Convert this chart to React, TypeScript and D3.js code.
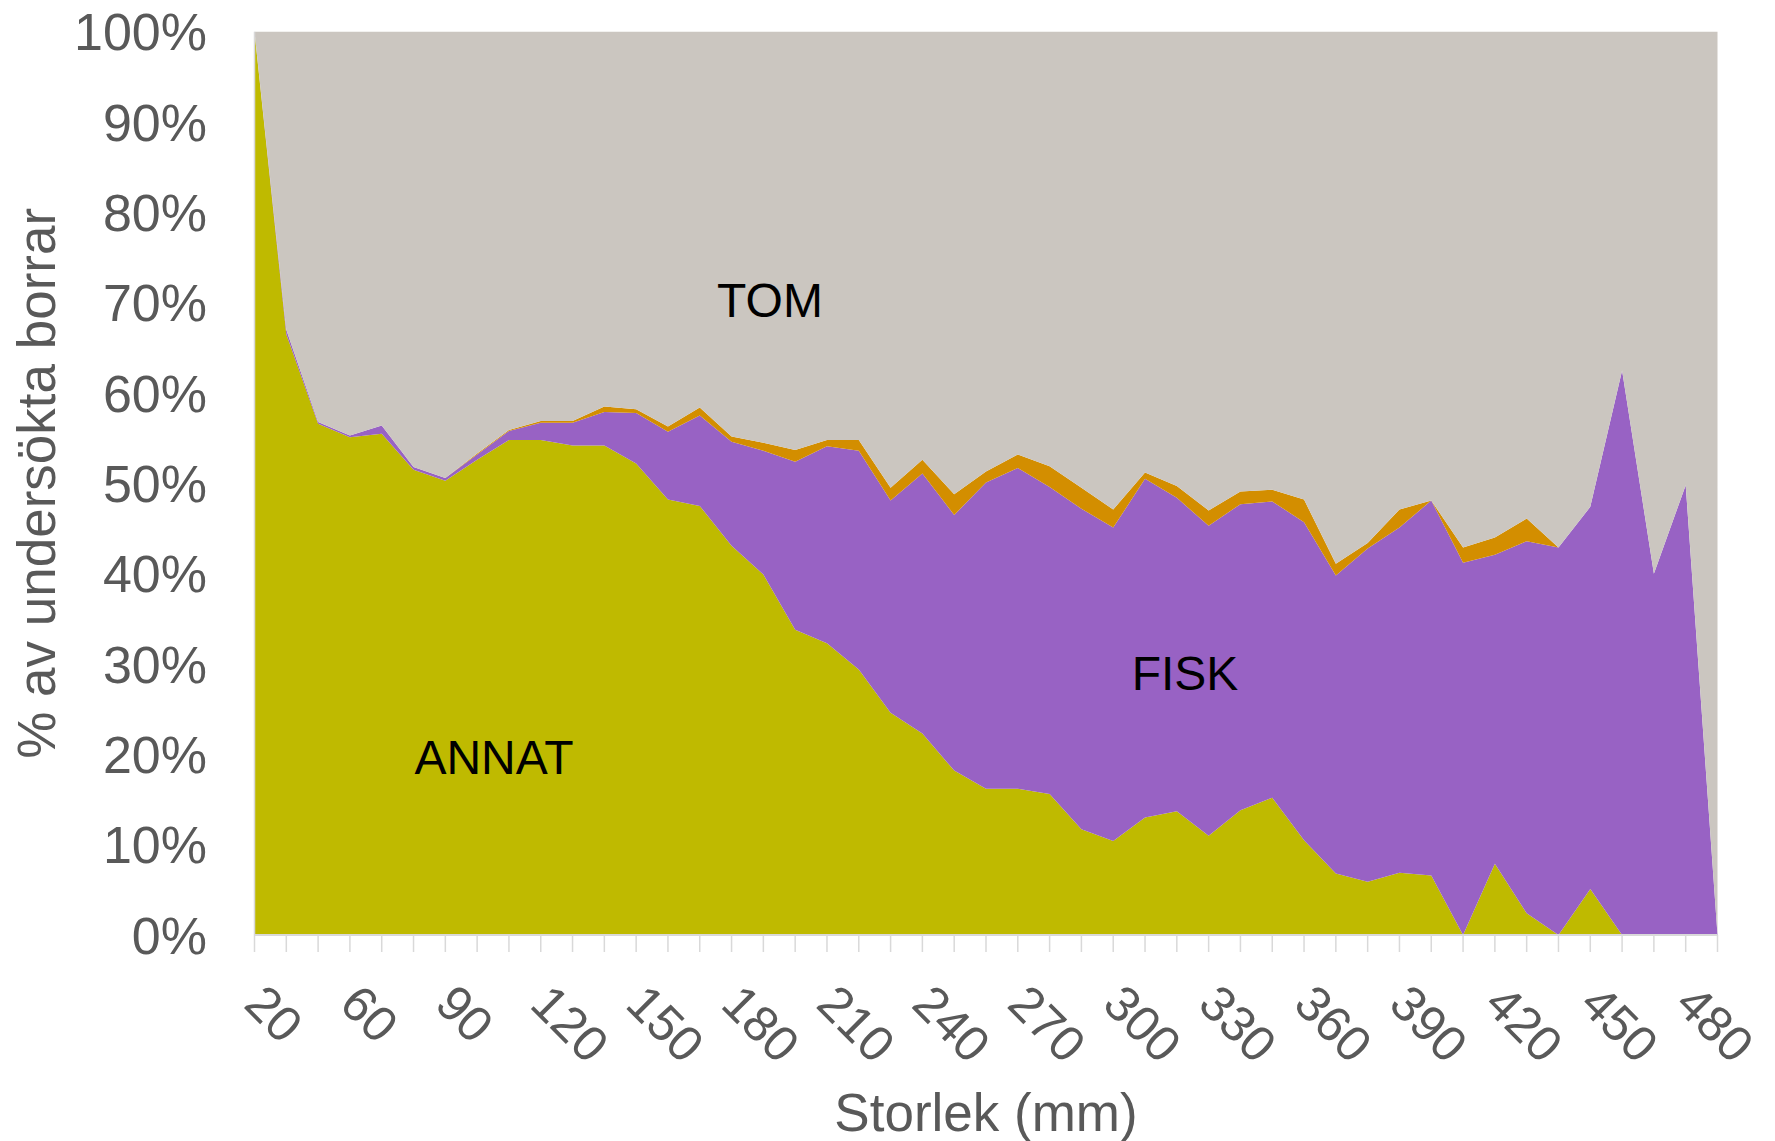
import React, { useEffect, useRef } from "react";
import * as d3 from "d3";

// Storleksklasser (mm) på x-axeln
const storlek = [
  20, 40, 50, 60, 70, 80, 90, 100, 110, 120, 130, 140, 150, 160, 170, 180,
  190, 200, 210, 220, 230, 240, 250, 260, 270, 280, 290, 300, 310, 320, 330,
  340, 350, 360, 370, 380, 390, 400, 410, 420, 430, 440, 450, 460, 470, 480,
  490,
];

// Andel (%) av undersökta borrar per storleksklass
const annat = [
  100, 66.5, 56.6, 55.1, 55.5, 51.5, 50.3, 52.6, 54.8, 54.8, 54.2, 54.2, 52.2,
  48.2, 47.5, 43.1, 39.9, 33.8, 32.3, 29.4, 24.6, 22.3, 18.2, 16.2, 16.2, 15.6,
  11.7, 10.4, 13.0, 13.7, 11.0, 13.8, 15.2, 10.5, 6.8, 5.9, 6.9, 6.6, 0, 7.9,
  2.4, 0, 5.1, 0, 0, 0, 0,
];
const fisk = [
  0, 0.5, 0.2, 0.2, 0.9, 0.3, 0.3, 0.6, 1.0, 1.9, 2.5, 3.7, 5.6, 7.5, 10.0,
  11.5, 13.7, 18.6, 21.8, 24.2, 23.5, 28.8, 28.3, 33.9, 35.5, 34.0, 35.5, 34.7,
  37.5, 34.7, 34.3, 33.9, 32.8, 35.2, 33.0, 36.9, 38.2, 41.5, 41.2, 34.2, 41.2,
  42.9, 42.3, 62.5, 40.0, 49.8, 0,
];
const ovrigt = [
  0, 0, 0, 0, 0, 0, 0, 0.1, 0.1, 0.2, 0.2, 0.6, 0.4, 0.6, 0.9, 0.6, 0.9, 1.3,
  0.7, 1.2, 1.4, 1.5, 2.3, 1.2, 1.5, 2.3, 2.3, 2.0, 0.7, 1.3, 1.7, 1.4, 1.3,
  2.5, 1.3, 0.6, 2.0, 0, 1.7, 1.9, 2.5, 0, 0, 0, 0, 0, 0,
];
const tom = [
  0, 33.0, 43.2, 44.7, 43.6, 48.2, 49.4, 46.7, 44.1, 43.1, 43.1, 41.5, 41.8,
  43.7, 41.6, 44.8, 45.5, 46.3, 45.2, 45.2, 50.5, 47.4, 51.2, 48.7, 46.8, 48.1,
  50.5, 52.9, 48.8, 50.3, 53.0, 50.9, 50.7, 51.8, 58.9, 56.6, 52.9, 51.9, 57.1,
  56.0, 53.9, 57.1, 52.6, 37.5, 60.0, 50.2, 100,
];

const serieNamn = ["annat", "fisk", "ovrigt", "tom"];
const serieFarg = ["#BFBA00", "#9862C4", "#D38E00", "#CBC6C0"];
const yTicks = [0, 10, 20, 30, 40, 50, 60, 70, 80, 90, 100];
const xLabels = [20, 60, 90, 120, 150, 180, 210, 240, 270, 300, 330, 360, 390, 420, 450, 480];

const W = 1775;
const H = 1141;
const font = "'Liberation Sans', Arial, sans-serif";

export default function App() {
  const ref = useRef<SVGSVGElement>(null);

  useEffect(() => {
    document.body.style.margin = "0";
    const svg = d3.select(ref.current);
    svg.selectAll("*").remove();

    const left = 254.5;
    const right = 1717.5;
    const top = 31.7;
    const bottom = 935;

    const x = d3.scalePoint<number>().domain(storlek).range([left, right]);
    const y = d3.scaleLinear().domain([0, 100]).range([bottom, top]);

    const rows = storlek.map((s, i) => ({
      storlek: s,
      annat: annat[i],
      fisk: fisk[i],
      ovrigt: ovrigt[i],
      tom: tom[i],
    }));

    const series = d3.stack<any>().keys(serieNamn)(rows);

    const area = d3
      .area<any>()
      .x((d) => x(d.data.storlek) as number)
      .y0((d) => y(d[0]))
      .y1((d) => y(d[1]));

    svg
      .append("g")
      .selectAll("path")
      .data(series)
      .enter()
      .append("path")
      .attr("d", area as any)
      .attr("fill", (_d, i) => serieFarg[i]);

    // axellinjer
    svg
      .append("line")
      .attr("x1", left)
      .attr("x2", left)
      .attr("y1", top)
      .attr("y2", bottom)
      .attr("stroke", "#D9D9D9")
      .attr("stroke-width", 1.5);

    const xAxis = svg.append("g");
    xAxis
      .append("line")
      .attr("x1", left)
      .attr("x2", right)
      .attr("y1", bottom)
      .attr("y2", bottom)
      .attr("stroke", "#D9D9D9")
      .attr("stroke-width", 2);

    xAxis
      .selectAll("line.tick")
      .data(storlek)
      .enter()
      .append("line")
      .attr("class", "tick")
      .attr("x1", (d) => x(d) as number)
      .attr("x2", (d) => x(d) as number)
      .attr("y1", bottom)
      .attr("y2", bottom + 17)
      .attr("stroke", "#D9D9D9")
      .attr("stroke-width", 1.5);

    xAxis
      .selectAll("text")
      .data(xLabels)
      .enter()
      .append("text")
      .attr("transform", (d) => `translate(${x(d)},${bottom + 59}) rotate(45)`)
      .attr("dy", "0.35em")
      .attr("text-anchor", "start")
      .attr("font-family", font)
      .attr("font-size", 50)
      .attr("fill", "#595959")
      .text((d) => d);

    // y-axelns etiketter
    svg
      .append("g")
      .selectAll("text")
      .data(yTicks)
      .enter()
      .append("text")
      .attr("x", 207)
      .attr("y", (d) => y(d))
      .attr("dy", "0.36em")
      .attr("text-anchor", "end")
      .attr("font-family", font)
      .attr("font-size", 52)
      .attr("fill", "#595959")
      .text((d) => d + "%");

    // axeltitlar
    svg
      .append("text")
      .attr("x", (left + right) / 2)
      .attr("y", 1131)
      .attr("text-anchor", "middle")
      .attr("font-family", font)
      .attr("font-size", 53)
      .attr("fill", "#595959")
      .text("Storlek (mm)");

    svg
      .append("text")
      .attr("transform", `translate(55,${(top + bottom) / 2}) rotate(-90)`)
      .attr("text-anchor", "middle")
      .attr("font-family", font)
      .attr("font-size", 53)
      .attr("fill", "#595959")
      .text("% av undersökta borrar");

    // etiketter i ytorna
    const etiketter = [
      { text: "TOM", x: 770, y: 317 },
      { text: "FISK", x: 1185, y: 690 },
      { text: "ANNAT", x: 494, y: 774 },
    ];
    svg
      .append("g")
      .selectAll("text")
      .data(etiketter)
      .enter()
      .append("text")
      .attr("x", (d) => d.x)
      .attr("y", (d) => d.y)
      .attr("text-anchor", "middle")
      .attr("font-family", font)
      .attr("font-size", 48)
      .attr("fill", "#000")
      .text((d) => d.text);
  }, []);

  return <svg ref={ref} width={W} height={H} style={{ display: "block" }} />;
}
